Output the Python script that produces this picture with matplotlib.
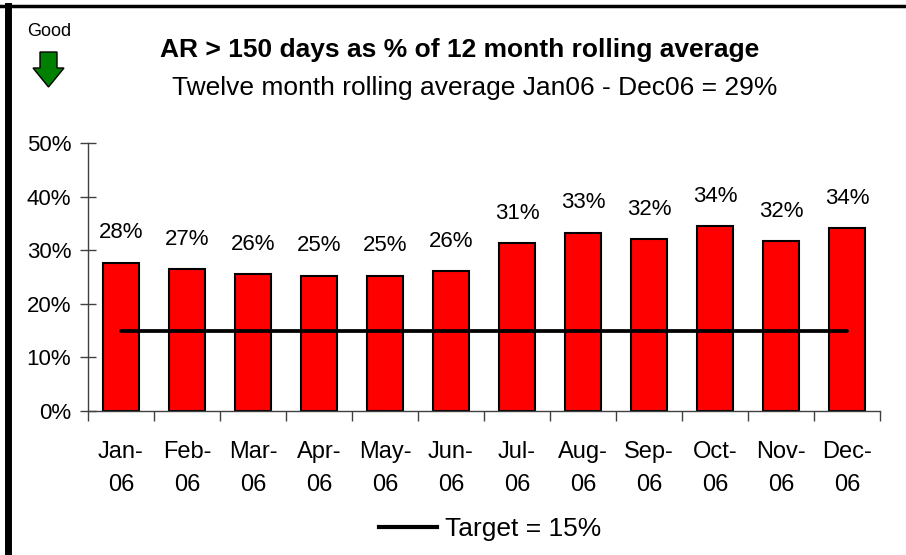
import numpy as np
import matplotlib
matplotlib.use('Agg')
import matplotlib.pyplot as plt
from matplotlib.patches import Polygon
from matplotlib.lines import Line2D

plt.rcParams['font.family'] = ['Liberation Sans', 'DejaVu Sans']

# Data
months = ['Jan-\n06', 'Feb-\n06', 'Mar-\n06', 'Apr-\n06', 'May-\n06', 'Jun-\n06',
          'Jul-\n06', 'Aug-\n06', 'Sep-\n06', 'Oct-\n06', 'Nov-\n06', 'Dec-\n06']
ar_pct = [27.7, 26.5, 25.5, 25.2, 25.2, 26.1, 31.3, 33.3, 32.0, 34.5, 31.7, 34.1]
bar_labels = ['28%', '27%', '26%', '25%', '25%', '26%', '31%', '33%', '32%', '34%', '32%', '34%']
target = [15] * 12
y_ticks = [0, 10, 20, 30, 40, 50]

W, H = 906, 555
fig = plt.figure(figsize=(W / 100, H / 100), dpi=100)
ax = fig.add_axes([88 / W, (H - 411) / H, (880 - 88) / W, (411 - 143) / H])

x = np.arange(len(months))
bars = ax.bar(x, ar_pct, width=0.55, color='#ff0000', edgecolor='black', linewidth=1.5, zorder=2)
ax.bar_label(bars, labels=bar_labels, padding=14, fontsize=16)
ax.plot(x, target, color='black', linewidth=2.7, solid_capstyle='round', zorder=3)

ax.set_xlim(-0.5, len(months) - 0.5)
ax.set_ylim(0, 50)
ax.set_yticks(y_ticks)
ax.set_yticklabels([f'{v}%' for v in y_ticks], fontsize=16)
ax.tick_params(axis='y', direction='inout', length=12, width=1, color='#404040', pad=6)

# category labels between boundary ticks
ax.set_xticks(np.arange(len(months) + 1) - 0.5)
ax.set_xticklabels([])
ax.tick_params(axis='x', direction='out', length=7, width=1, color='#404040')
for i, m in enumerate(months):
    ax.text(i, -5.6, m, ha='center', va='top', fontsize=17, linespacing=1.62,
            transform=ax.transData)

for s in ['top', 'right']:
    ax.spines[s].set_visible(False)
for s in ['left', 'bottom']:
    ax.spines[s].set_color('#404040')
    ax.spines[s].set_linewidth(1)

# titles
fig.text(460 / W, 1 - 50 / H, 'AR > 150 days as % of 12 month rolling average',
         ha='center', va='center', fontsize=19, fontweight='bold')
fig.text(475 / W, 1 - 88 / H, 'Twelve month rolling average Jan06 - Dec06 = 29%',
         ha='center', va='center', fontsize=19)

# "Good" with green down arrow
fig.text(49 / W, 1 - 32 / H, 'Good', ha='center', va='center', fontsize=13)
arrow_px = [(40, 52), (57, 52), (57, 68), (64, 68), (48.5, 87), (33, 68), (40, 68)]
fig.patches.append(Polygon([(px / W, 1 - py / H) for px, py in arrow_px], closed=True,
                           facecolor='#008000', edgecolor='black', linewidth=1,
                           transform=fig.transFigure))

# frame lines at top and left
fig.add_artist(Line2D([0, 1], [1 - 6 / H, 1 - 6 / H], color='black', linewidth=2.5,
                      transform=fig.transFigure))
fig.add_artist(Line2D([8 / W, 8 / W], [0, 1 - 6 / H], color='black', linewidth=5,
                      transform=fig.transFigure))

# legend
handle = Line2D([], [], color='black', linewidth=3)
fig.legend([handle], ['Target = 15%'], loc='center', bbox_to_anchor=(490 / W, 1 - 529 / H),
           frameon=False, fontsize=19, handlelength=2.2, handletextpad=0.3)

fig.savefig('out.png', dpi=100)
